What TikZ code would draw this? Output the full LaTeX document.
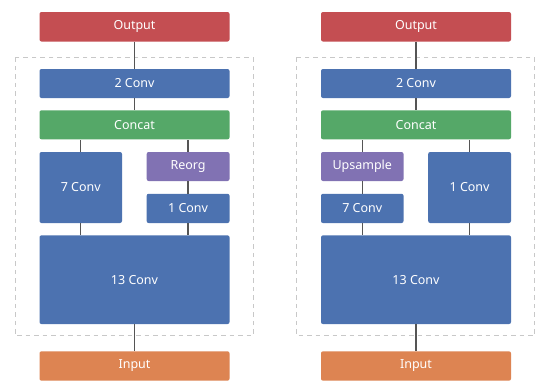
\documentclass[tikz,border=0pt]{standalone}
\usepackage{fontspec}
\setmainfont{Noto Sans}
\definecolor{cred}{HTML}{C44E52}
\definecolor{cblue}{HTML}{4C72B0}
\definecolor{cgreen}{HTML}{55A868}
\definecolor{cpurple}{HTML}{8172B3}
\definecolor{corange}{HTML}{DD8452}
\definecolor{cline}{HTML}{555555}
\definecolor{cdash}{HTML}{C8C8C8}
\tikzset{
  blk/.style={rectangle, rounded corners=2pt, draw=none, inner sep=0pt, text=white,
    font=\fontsize{12.5pt}{14pt}\selectfont},
  wire/.style={draw=cline, line width=1.3pt},
  frame/.style={draw=cdash, line width=1pt, dash pattern=on 4.5pt off 4pt},
}
\begin{document}
\begin{tikzpicture}[x=1pt,y=-1pt]
\fill[white] (0,0) rectangle (550,391);
\useasboundingbox (0,0) rectangle (550,391);
% ---------- left panel ----------
\draw[frame] (15,57.3) rectangle (253,335.7);
\node[blk, fill=cred, minimum width=190pt, minimum height=29.5pt] (Lout) at (134.5,26.75) {Output};
\node[blk, fill=cblue, minimum width=190pt, minimum height=29pt] (Lc2) at (134.5,83.5) {2 Conv};
\node[blk, fill=cgreen, minimum width=190pt, minimum height=29pt] (Lcat) at (134.5,124.8) {Concat};
\node[blk, fill=cblue, minimum width=82.5pt, minimum height=71pt] (Lc7) at (80.75,187.5) {7 Conv};
\node[blk, fill=cpurple, minimum width=82.8pt, minimum height=29pt] (Lreorg) at (188.1,166.5) {Reorg};
\node[blk, fill=cblue, minimum width=82.8pt, minimum height=29.3pt] (Lc1) at (188.1,208.4) {1 Conv};
\node[blk, fill=cblue, minimum width=190pt, minimum height=88.7pt] (Lc13) at (134.5,279.7) {13 Conv};
\node[blk, fill=corange, minimum width=190pt, minimum height=29.4pt] (Lin) at (134.5,366) {Input};
\draw[wire] (Lout.south) -- (Lc2.north);
\draw[wire] (Lc2.south) -- (Lcat.north);
\draw[wire] (Lc7.north) -- (Lc7.north |- Lcat.south);
\draw[wire] (Lreorg.north) -- (Lreorg.north |- Lcat.south);
\draw[wire] (Lreorg.south) -- (Lc1.north);
\draw[wire] (Lc7.south) -- (Lc7.south |- Lc13.north);
\draw[wire] (Lc1.south) -- (Lc1.south |- Lc13.north);
\draw[wire] (Lc13.south) -- (Lin.north);
% ---------- right panel ----------
\begin{scope}[xshift=281.5pt]
\draw[frame] (15,57.3) rectangle (253,335.7);
\node[blk, fill=cred, minimum width=190pt, minimum height=29.5pt] (Rout) at (134.5,26.75) {Output};
\node[blk, fill=cblue, minimum width=190pt, minimum height=29pt] (Rc2) at (134.5,83.5) {2 Conv};
\node[blk, fill=cgreen, minimum width=190pt, minimum height=29pt] (Rcat) at (134.5,124.8) {Concat};
\node[blk, fill=cpurple, minimum width=82.5pt, minimum height=29pt] (Rup) at (80.75,166.5) {Upsample};
\node[blk, fill=cblue, minimum width=82.5pt, minimum height=29.3pt] (Rc7) at (80.75,208.4) {7 Conv};
\node[blk, fill=cblue, minimum width=82.8pt, minimum height=71pt] (Rc1) at (188.1,187.5) {1 Conv};
\node[blk, fill=cblue, minimum width=190pt, minimum height=88.7pt] (Rc13) at (134.5,279.7) {13 Conv};
\node[blk, fill=corange, minimum width=190pt, minimum height=29.4pt] (Rin) at (134.5,366) {Input};
\draw[wire] (Rout.south) -- (Rc2.north);
\draw[wire] (Rc2.south) -- (Rcat.north);
\draw[wire] (Rup.north) -- (Rup.north |- Rcat.south);
\draw[wire] (Rc1.north) -- (Rc1.north |- Rcat.south);
\draw[wire] (Rup.south) -- (Rc7.north);
\draw[wire] (Rc7.south) -- (Rc7.south |- Rc13.north);
\draw[wire] (Rc1.south) -- (Rc1.south |- Rc13.north);
\draw[wire] (Rc13.south) -- (Rin.north);
\end{scope}
\end{tikzpicture}
\end{document}
